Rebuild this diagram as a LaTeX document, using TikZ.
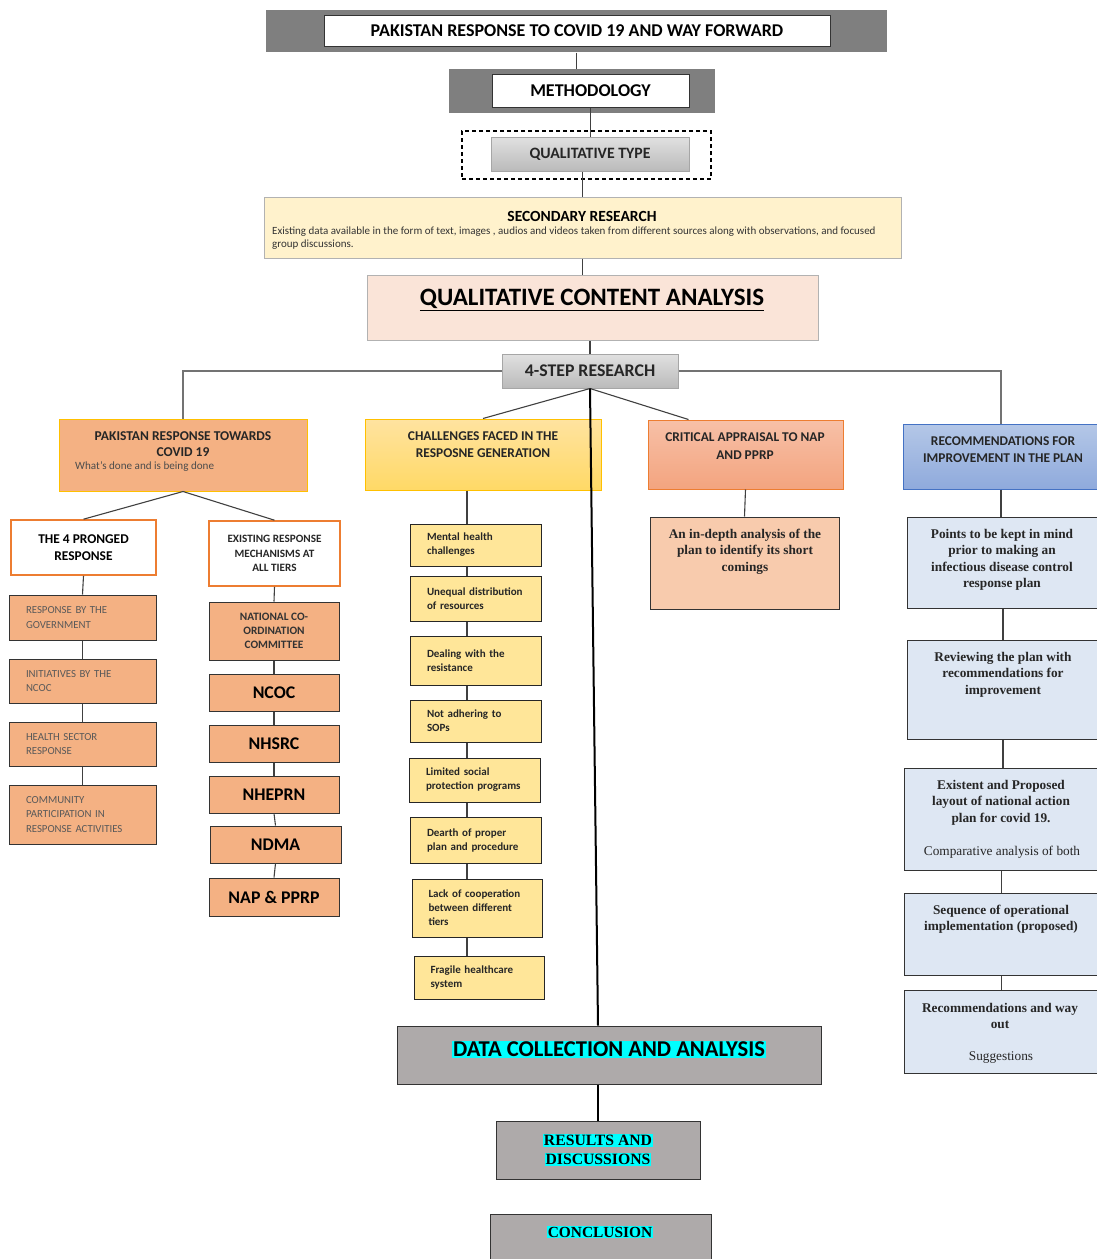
\documentclass[tikz,border=0pt]{standalone}
\usepackage{fontspec}
\setmainfont{Carlito}
\newfontfamily\tnr{Liberation Serif}
\usetikzlibrary{positioning}

\definecolor{hdgray}{HTML}{7F7F7F}
\definecolor{secyel}{HTML}{FFF2CC}
\definecolor{qcapeach}{HTML}{FAE4D8}
\definecolor{orng}{HTML}{F4B183}
\definecolor{gold}{HTML}{FFC000}
\definecolor{orngdk}{HTML}{ED7D31}
\definecolor{chaltop}{HTML}{FFE3A0}
\definecolor{chalbot}{HTML}{FFD966}
\definecolor{chyel}{HTML}{FFE699}
\definecolor{crittop}{HTML}{F7C0A7}
\definecolor{critbot}{HTML}{F3A47F}
\definecolor{depthor}{HTML}{F8CBAD}
\definecolor{rectop}{HTML}{B4C7E7}
\definecolor{recbot}{HTML}{8FAADC}
\definecolor{recdk}{HTML}{4472C4}
\definecolor{ltblue}{HTML}{DEE7F3}
\definecolor{bgray}{HTML}{AEAAAA}
\definecolor{hl}{HTML}{00FFFF}

\newcommand{\fs}[2]{\fontsize{#1}{#2}\selectfont}
\setlength{\fboxsep}{1pt}

\tikzset{
  box/.style={rectangle, draw=black!80, line width=1pt, inner sep=0pt},
  con/.style={draw=black!75, line width=1.1pt},
  bar/.style={draw=black!55, line width=1.6pt},
  spine/.style={draw=black, line width=2pt},
  head/.style={anchor=north, inner sep=0pt, align=center, font=\fs{13.4}{17}\bfseries, text=black!85},
  serif/.style={anchor=north, inner sep=0pt, align=center, font=\tnr\fs{13.3}{16.5}\bfseries, text=black!85},
  orbox/.style={box, fill=orng, minimum width=147pt, text width=113pt, align=left, font=\fs{10.8}{14.5}, text=black!65},
  tier/.style={box, fill=orng, minimum width=130pt, minimum height=37pt, font=\fs{17.8}{20}\bfseries},
  chbox/.style={box, draw=black!85, fill=chyel, minimum width=131pt, text width=97pt, align=left, font=\fs{11}{14}\bfseries, text=black!85},
  blbox/.style={box, fill=ltblue},
}

\begin{document}
\begin{tikzpicture}[x=1pt,y=-1pt]
\useasboundingbox (0,0) rectangle (1097,1259);

% title, methodology, type
\node[box, draw=none, fill=hdgray, minimum width=621pt, minimum height=42pt] (titlebg) at (576.5,31) {};
\node[box, fill=white, minimum width=506pt, minimum height=31pt, font=\fs{18}{20}\bfseries] (title) at (577,30.5) {\raisebox{-2pt}{PAKISTAN RESPONSE TO COVID 19 AND WAY FORWARD}};
\node[box, draw=none, fill=hdgray, minimum width=266pt, minimum height=44pt] (methbg) at (582,91) {};
\node[box, fill=white, minimum width=197pt, minimum height=33pt, font=\fs{18}{20}\bfseries] (meth) at (590.5,90.5) {\raisebox{-1pt}{METHODOLOGY}};
\node[box, draw=black, line width=1.4pt, dash pattern=on 4pt off 3pt, minimum width=249pt, minimum height=48pt] (qdash) at (586.5,155) {};
\node[box, draw=black!35, top color=black!12, bottom color=black!27, minimum width=198pt, minimum height=34pt, font=\fs{15.8}{18}\bfseries, text=black!85] (qual) at (590,154) {QUALITATIVE TYPE};

% secondary research
\node[box, draw=black!30, fill=secyel, minimum width=637pt, minimum height=61pt] (sec) at (582.5,227.5) {};
\node[inner sep=0pt, font=\fs{15.5}{17}\bfseries] (sec-t) at (582,216) {SECONDARY RESEARCH};
\node[anchor=north west, inner sep=0pt, align=left, font=\fs{11}{13}, text=black!80] (sec-d) at (272,226.5) {Existing data available in the form of text, images , audios and videos taken from different sources along with observations, and focused\\group discussions.};

% content analysis
\node[box, draw=black!30, fill=qcapeach, minimum width=451pt, minimum height=65pt] (qca) at (592.5,307.5) {};
\node[inner sep=0pt, font=\fs{25}{28}\bfseries] (qca-t) at (592,300) {\underline{QUALITATIVE CONTENT ANALYSIS}};

\node[box, draw=black!35, top color=black!12, bottom color=black!27, minimum width=176pt, minimum height=34pt, font=\fs{17.8}{20}\bfseries, text=black!85] (step) at (590,371) {4-STEP RESEARCH};

% the four steps
\node[box, draw=gold, fill=orng, minimum width=248pt, minimum height=72pt] (prtc) at (183,455) {};
\node[head, font=\fs{13.5}{16}\bfseries] (prtc-t) at (183,431.7) {PAKISTAN RESPONSE TOWARDS\\COVID 19};
\node[anchor=west, inner sep=0pt, font=\fs{11.1}{12}, text=black!70] (prtc-s) at (75,467) {What’s done and is being done};

\node[box, draw=gold, top color=chaltop, bottom color=chalbot, minimum width=236pt, minimum height=71pt] (chal) at (483,454.5) {};
\node[head] (chal-t) at (483,431.7) {CHALLENGES FACED IN THE\\RESPOSNE GENERATION};

\node[box, draw=orngdk, top color=crittop, bottom color=critbot, minimum width=195pt, minimum height=69pt] (crit) at (745.5,454.5) {};
\node[head, font=\fs{13.4}{18}\bfseries] (crit-t) at (745,432.7) {CRITICAL APPRAISAL TO NAP\\AND PPRP};

\node[box, draw=recdk, top color=rectop, bottom color=recbot, minimum width=196pt, minimum height=65pt] (rec) at (1001,456.5) {};
\node[head] (rec-t) at (1003,436.7) {RECOMMENDATIONS FOR\\IMPROVEMENT IN THE PLAN};

% response branch
\node[box, draw=orngdk, line width=1.6pt, fill=white, minimum width=145pt, minimum height=55pt, align=center, font=\fs{13.4}{17}\bfseries] (four) at (83.5,547.5) {THE 4 PRONGED\\RESPONSE};
\node[box, draw=orngdk, line width=1.6pt, fill=white, minimum width=131pt, minimum height=65pt, align=center, font=\fs{11.2}{14.5}\bfseries, text=black!85] (exist) at (274.5,553.5) {EXISTING RESPONSE\\MECHANISMS AT\\ALL TIERS};

\node[orbox, minimum height=45pt] (gov) at (82.5,617.5) {RESPONSE BY THE\\GOVERNMENT};
\node[orbox, minimum height=44pt] (init) at (82.5,681) {INITIATIVES BY THE\\NCOC};
\node[orbox, minimum height=44pt] (hsr) at (82.5,744) {HEALTH SECTOR\\RESPONSE};
\node[orbox, minimum height=59pt] (comm) at (82.5,814.5) {COMMUNITY\\PARTICIPATION IN\\RESPONSE ACTIVITIES};

\node[tier, minimum height=58pt, align=center, font=\fs{11.3}{14}\bfseries, text=black!80] (ncc) at (274,631) {NATIONAL CO-\\ORDINATION\\COMMITTEE};
\node[tier] (ncoc) at (274,692.5) {NCOC};
\node[tier] (nhsrc) at (274,743.5) {NHSRC};
\node[tier] (nheprn) at (274,794.5) {NHEPRN};
\node[tier, minimum width=131pt] (ndma) at (275.5,844.5) {NDMA};
\node[tier, minimum height=38pt] (nap) at (274,897) {NAP \& PPRP};

% challenges branch
\node[chbox, minimum height=42pt] (mh) at (475.5,545) {Mental health\\challenges};
\node[chbox, minimum height=45pt] (ud) at (475.5,598.5) {Unequal distribution\\of resources};
\node[chbox, minimum height=49pt] (dr) at (475.5,660.5) {Dealing with the\\resistance};
\node[chbox, minimum height=42pt] (sop) at (475.5,721) {Not adhering to\\SOPs};
\node[chbox, minimum height=44pt] (lsp) at (474.5,780) {Limited social\\protection programs};
\node[chbox, minimum height=46pt] (dpp) at (475.5,840) {Dearth of proper\\plan and procedure};
\node[chbox, minimum width=130pt, minimum height=58pt] (lc) at (477,908) {Lack of cooperation\\between different\\tiers};
\node[chbox, minimum width=130pt, minimum height=43pt] (fh) at (479,977.5) {Fragile healthcare\\system};
\coordinate (chx) at (467,0);

% appraisal branch
\node[box, fill=depthor, minimum width=189pt, minimum height=92pt] (depth) at (744.5,563) {};
\node[serif] (depth-t) at (745,528.7) {An in-depth analysis of the\\plan to identify its short\\comings};

% recommendations branch
\node[blbox, minimum width=192pt, minimum height=91pt] (pts) at (1003,562.5) {};
\node[serif] (pts-t) at (1002,528.7) {Points to be kept in mind\\prior to making an\\infectious disease control\\response plan};
\node[blbox, minimum width=192pt, minimum height=99pt] (rev) at (1003,689.5) {};
\node[serif] (rev-t) at (1003,651.7) {Reviewing the plan with\\recommendations for\\improvement};
\node[blbox, minimum width=195pt, minimum height=102pt] (exi) at (1001.5,819) {};
\node[serif] (exi-t) at (1001,779.7) {Existent and Proposed\\layout of national action\\plan for covid 19.};
\node[inner sep=0pt, font=\tnr\fs{13.3}{15}, text=black!85] (exi-s) at (1002,852) {Comparative analysis of both};
\node[blbox, minimum width=195pt, minimum height=82pt] (seqn) at (1001.5,934) {};
\node[serif] (seqn-t) at (1001,904.7) {Sequence of operational\\implementation (proposed)};
\node[blbox, minimum width=195pt, minimum height=83pt] (way) at (1001.5,1031.5) {};
\node[serif] (way-t) at (1000,1002.7) {Recommendations and way\\out};
\node[inner sep=0pt, font=\tnr\fs{13.3}{15}, text=black!85] (way-s) at (1001,1058) {Suggestions};

% data, results, conclusion
\node[box, fill=bgray, minimum width=424pt, minimum height=58pt] (data) at (609,1055) {};
\node[fill=hl, inner sep=1pt, font=\fs{22.6}{25}\bfseries] (data-t) at (609,1049) {DATA COLLECTION AND ANALYSIS};
\node[box, fill=bgray, minimum width=204pt, minimum height=58pt, align=center, font=\tnr\fs{15.7}{19}\bfseries] (res) at (598,1150) {\colorbox{hl}{RESULTS AND}\\\colorbox{hl}{DISCUSSIONS}};
\node[box, fill=bgray, minimum width=221pt, minimum height=48pt] (conc) at (600.5,1238) {};
\node[fill=hl, inner sep=1pt, font=\tnr\fs{15.4}{18}\bfseries] (conc-t) at (600,1232) {CONCLUSION};

% connectors
\draw[con] (titlebg.south) -- (titlebg.south |- methbg.north);
\draw[con] (meth.south) -- (meth.south |- qual.north);
\draw[con] (qual.south -| sec.north) -- (sec.north);
\draw[con] (sec.south) -- (sec.south |- qca.north);
\draw[con] (step.north |- qca.south) -- (step.north);
\draw[bar] (step.west) -| (prtc.north);
\draw[bar] (step.east) -| (rec.north);
\draw[con] (step.south) -- (chal.north);
\draw[con] (step.south) -- ([xshift=41pt]crit.north west);
\draw[spine] (step.south) -- (res.north |- data.north);
\draw[spine] (res.north |- data.south) -- (res.north);

\draw[con] (prtc.south) -- (four.north);
\draw[con] (prtc.south) -- (exist.north);
\foreach \a/\b in {four/gov, gov/init, init/hsr, hsr/comm, exist/ncc, ncc/ncoc, ncoc/nhsrc, nhsrc/nheprn, nheprn/ndma, ndma/nap}
  \draw[con] (\a.south) -- (\b.north);

\draw[con] (chal.south -| chx) -- (mh.north -| chx);
\foreach \a/\b in {mh/ud, ud/dr, dr/sop, sop/lsp, lsp/dpp, dpp/lc, lc/fh}
  \draw[con] (\a.south -| chx) -- (\b.north -| chx);

\draw[con] (crit.south) -- (depth.north);
\foreach \a/\b in {rec/pts, pts/rev, rev/exi, exi/seqn, seqn/way}
  \draw[con] (\a.south) -- (\a.south |- \b.north);
\end{tikzpicture}
\end{document}
